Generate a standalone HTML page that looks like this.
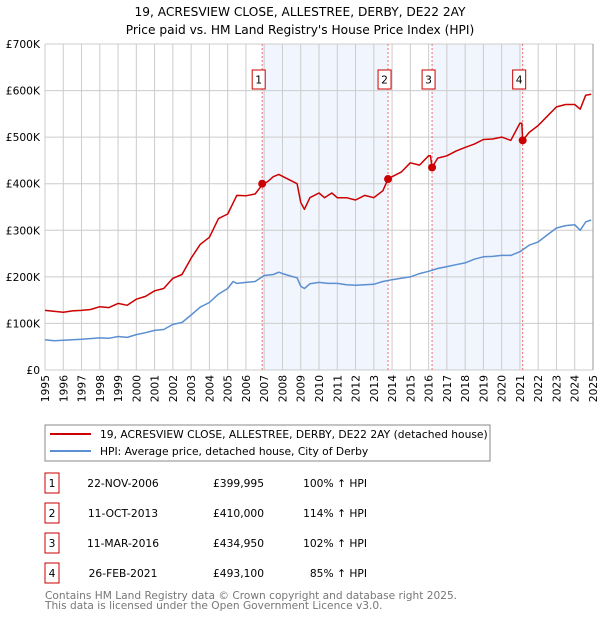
<!DOCTYPE html>
<html><head><meta charset="utf-8"><style>
body{margin:0;background:#fff;font-family:"Liberation Sans","DejaVu Sans",sans-serif;}
svg text{font-family:"DejaVu Sans","Liberation Sans",sans-serif;}
</style></head><body>
<svg id="c" width="600" height="620" xmlns="http://www.w3.org/2000/svg">
<text x="300" y="16" text-anchor="middle" font-size="12.2">19, ACRESVIEW CLOSE, ALLESTREE, DERBY, DE22 2AY</text>
<text x="300" y="34" text-anchor="middle" font-size="12.2">Price paid vs. HM Land Registry's House Price Index (HPI)</text>
<g id="plot"></g>
<rect x="45" y="425" width="445" height="36" fill="#fff" stroke="#888"/>
<line x1="50" y1="434" x2="91" y2="434" stroke="#cc0000" stroke-width="2"/>
<text x="100" y="438" font-size="10.7">19, ACRESVIEW CLOSE, ALLESTREE, DERBY, DE22 2AY (detached house)</text>
<line x1="50" y1="451" x2="91" y2="451" stroke="#5b8fd1" stroke-width="2"/>
<text x="100" y="455" font-size="10.7">HPI: Average price, detached house, City of Derby</text>
<g id="tbl" font-size="10.7"></g>
<text x="45" y="599" font-size="10.6" fill="#777">Contains HM Land Registry data © Crown copyright and database right 2025.</text>
<text x="45" y="609" font-size="10.6" fill="#777">This data is licensed under the Open Government Licence v3.0.</text>
</svg>
<script>
const hpiT=[1995,1995.5,1996,1997,1998,1998.5,1999,1999.5,2000,2000.5,2001,2001.5,2002,2002.5,2003,2003.5,2004,2004.5,2005,2005.3,2005.5,2006,2006.5,2007,2007.5,2007.8,2008,2008.5,2008.8,2009,2009.2,2009.5,2010,2010.5,2011,2011.5,2012,2012.5,2013,2013.5,2014,2014.5,2015,2015.5,2016,2016.5,2017,2017.5,2018,2018.5,2019,2019.5,2020,2020.5,2021,2021.5,2022,2022.5,2023,2023.5,2024,2024.3,2024.6,2024.9];
const hpiV=[65,63,64,66,69,68,72,70,76,80,85,87,98,102,118,135,145,163,175,190,186,188,190,203,205,210,207,201,198,180,175,185,188,186,186,183,182,183,184,190,194,197,200,207,212,218,222,226,230,238,243,244,246,246,254,268,275,290,305,310,312,300,318,322];
const propT=[1995,1996,1996.5,1997,1997.5,1998,1998.5,1999,1999.5,2000,2000.5,2001,2001.5,2002,2002.5,2003,2003.5,2004,2004.5,2005,2005.5,2006,2006.5,2006.9,2007.2,2007.5,2007.8,2008.3,2008.8,2009,2009.2,2009.5,2010,2010.3,2010.7,2011,2011.5,2012,2012.5,2013,2013.5,2013.78,2014,2014.5,2015,2015.5,2016,2016.1,2016.19,2016.5,2017,2017.5,2018,2018.5,2019,2019.5,2020,2020.5,2021,2021.1,2021.15,2021.5,2022,2022.5,2023,2023.5,2024,2024.3,2024.6,2024.9];
const propV=[128,124,127,128,130,136,134,143,139,152,158,170,175,197,205,240,270,285,325,335,375,374,378,398,405,415,420,410,400,360,345,370,380,370,380,370,370,365,375,370,385,410,415,425,445,440,460,460,435,455,460,470,478,485,495,496,500,493,530,530,493,510,525,545,565,570,570,560,590,592];
const saleLabels=["1","2","3","4"];
const saleT=[2006.89,2013.78,2016.19,2021.15];
const saleV=[399.995,410,434.95,493.1];
const saleDates=["22-NOV-2006","11-OCT-2013","11-MAR-2016","26-FEB-2021"];
const salePrices=["£399,995","£410,000","£434,950","£493,100"];
const salePct=["100% ↑ HPI","114% ↑ HPI","102% ↑ HPI","85% ↑ HPI"];
const yTicks=[0,100,200,300,400,500,600,700];
const yTickLabels=["£0","£100K","£200K","£300K","£400K","£500K","£600K","£700K"];
const xTicks=[1995,1996,1997,1998,1999,2000,2001,2002,2003,2004,2005,2006,2007,2008,2009,2010,2011,2012,2013,2014,2015,2016,2017,2018,2019,2020,2021,2022,2023,2024,2025];

const NS="http://www.w3.org/2000/svg";
const X0=45,X1=593,Y0=370,Y1=44;
const x=t=>X0+(t-1995)/30*(X1-X0);
const y=v=>Y0-v/700*(Y0-Y1);
const g=document.getElementById('plot');
function mk(tag,attrs,parent){const e=document.createElementNS(NS,tag);for(const k in attrs)e.setAttribute(k,attrs[k]);(parent||g).appendChild(e);return e;}

for(const [a,b] of [[0,1],[2,3]]){
  const r=mk('rect',{x:x(saleT[a]),y:Y1,width:x(saleT[b])-x(saleT[a]),height:Y0-Y1,fill:'#eef2fc',opacity:0.8});
  
  
}
xTicks.forEach(t=>{
  const l=mk('line',{x1:x(t),x2:x(t),y1:Y1,y2:Y0,stroke:'#ccc','stroke-width':1});
  
  
  const tx=mk('text',{transform:`translate(${x(t)+4},${Y0+5}) rotate(-90)`,'text-anchor':'end','font-size':10.7});
  tx.textContent=t;
  
  
});
yTicks.forEach((v,i)=>{
  const l=mk('line',{x1:X0,x2:X1,y1:y(v),y2:y(v),stroke:'#ccc','stroke-width':1});
  
  
  const tx=mk('text',{x:40,y:y(v)+4,'text-anchor':'end','font-size':10.7});
  tx.textContent=yTickLabels[i];
  
  
});
const ra=mk('line',{x1:X1,x2:X1,y1:Y1,y2:Y0,stroke:'#999','stroke-width':1});


saleT.forEach((t,i)=>{
  const l=mk('line',{x1:x(t),x2:x(t),y1:Y1,y2:Y0,stroke:'#f07070','stroke-width':1,'stroke-dasharray':'2,2'});
  
  
  const r=mk('rect',{x:x(t)-10,y:70,width:13,height:19,fill:'#fff',stroke:'#cc0000'});
  
  
  const tx=mk('text',{x:x(t)-3.5,y:83.5,'text-anchor':'middle','font-size':10.7});
  tx.textContent=saleLabels[i];
  
  
});
function path(T,V,color,name){
  const d=T.map((t,i)=>(i?'L':'M')+x(t).toFixed(1)+','+y(V[i]).toFixed(1)).join('');
  const p=mk('path',{d:d,fill:'none',stroke:color,'stroke-width':1.5,'stroke-linejoin':'round'});
  
  
}
path(hpiT,hpiV,'#5b8fd1','hpi-line');
path(propT,propV,'#cc0000','property-price-line');
saleT.forEach((t,i)=>{
  const c=mk('circle',{cx:x(t),cy:y(saleV[i]),r:4,fill:'#cc0000'});
  
  
});
const tb=document.getElementById('tbl');
saleLabels.forEach((s,i)=>{
  const cy=483+i*30;
  const r=mk('rect',{x:45,y:cy-10,width:14,height:20,fill:'#fff',stroke:'#cc0000'},tb);
  
  
  const vals=[[s,52,'middle'],[saleDates[i],123,'middle'],[salePrices[i],264,'end'],[salePct[i],367,'end']];
  vals.forEach(([txt,xx,anc],j)=>{
    const t=mk('text',{x:xx,y:cy+4,'text-anchor':anc},tb);
    t.textContent=txt;
    
    
  });
});
</script>
</body></html>
